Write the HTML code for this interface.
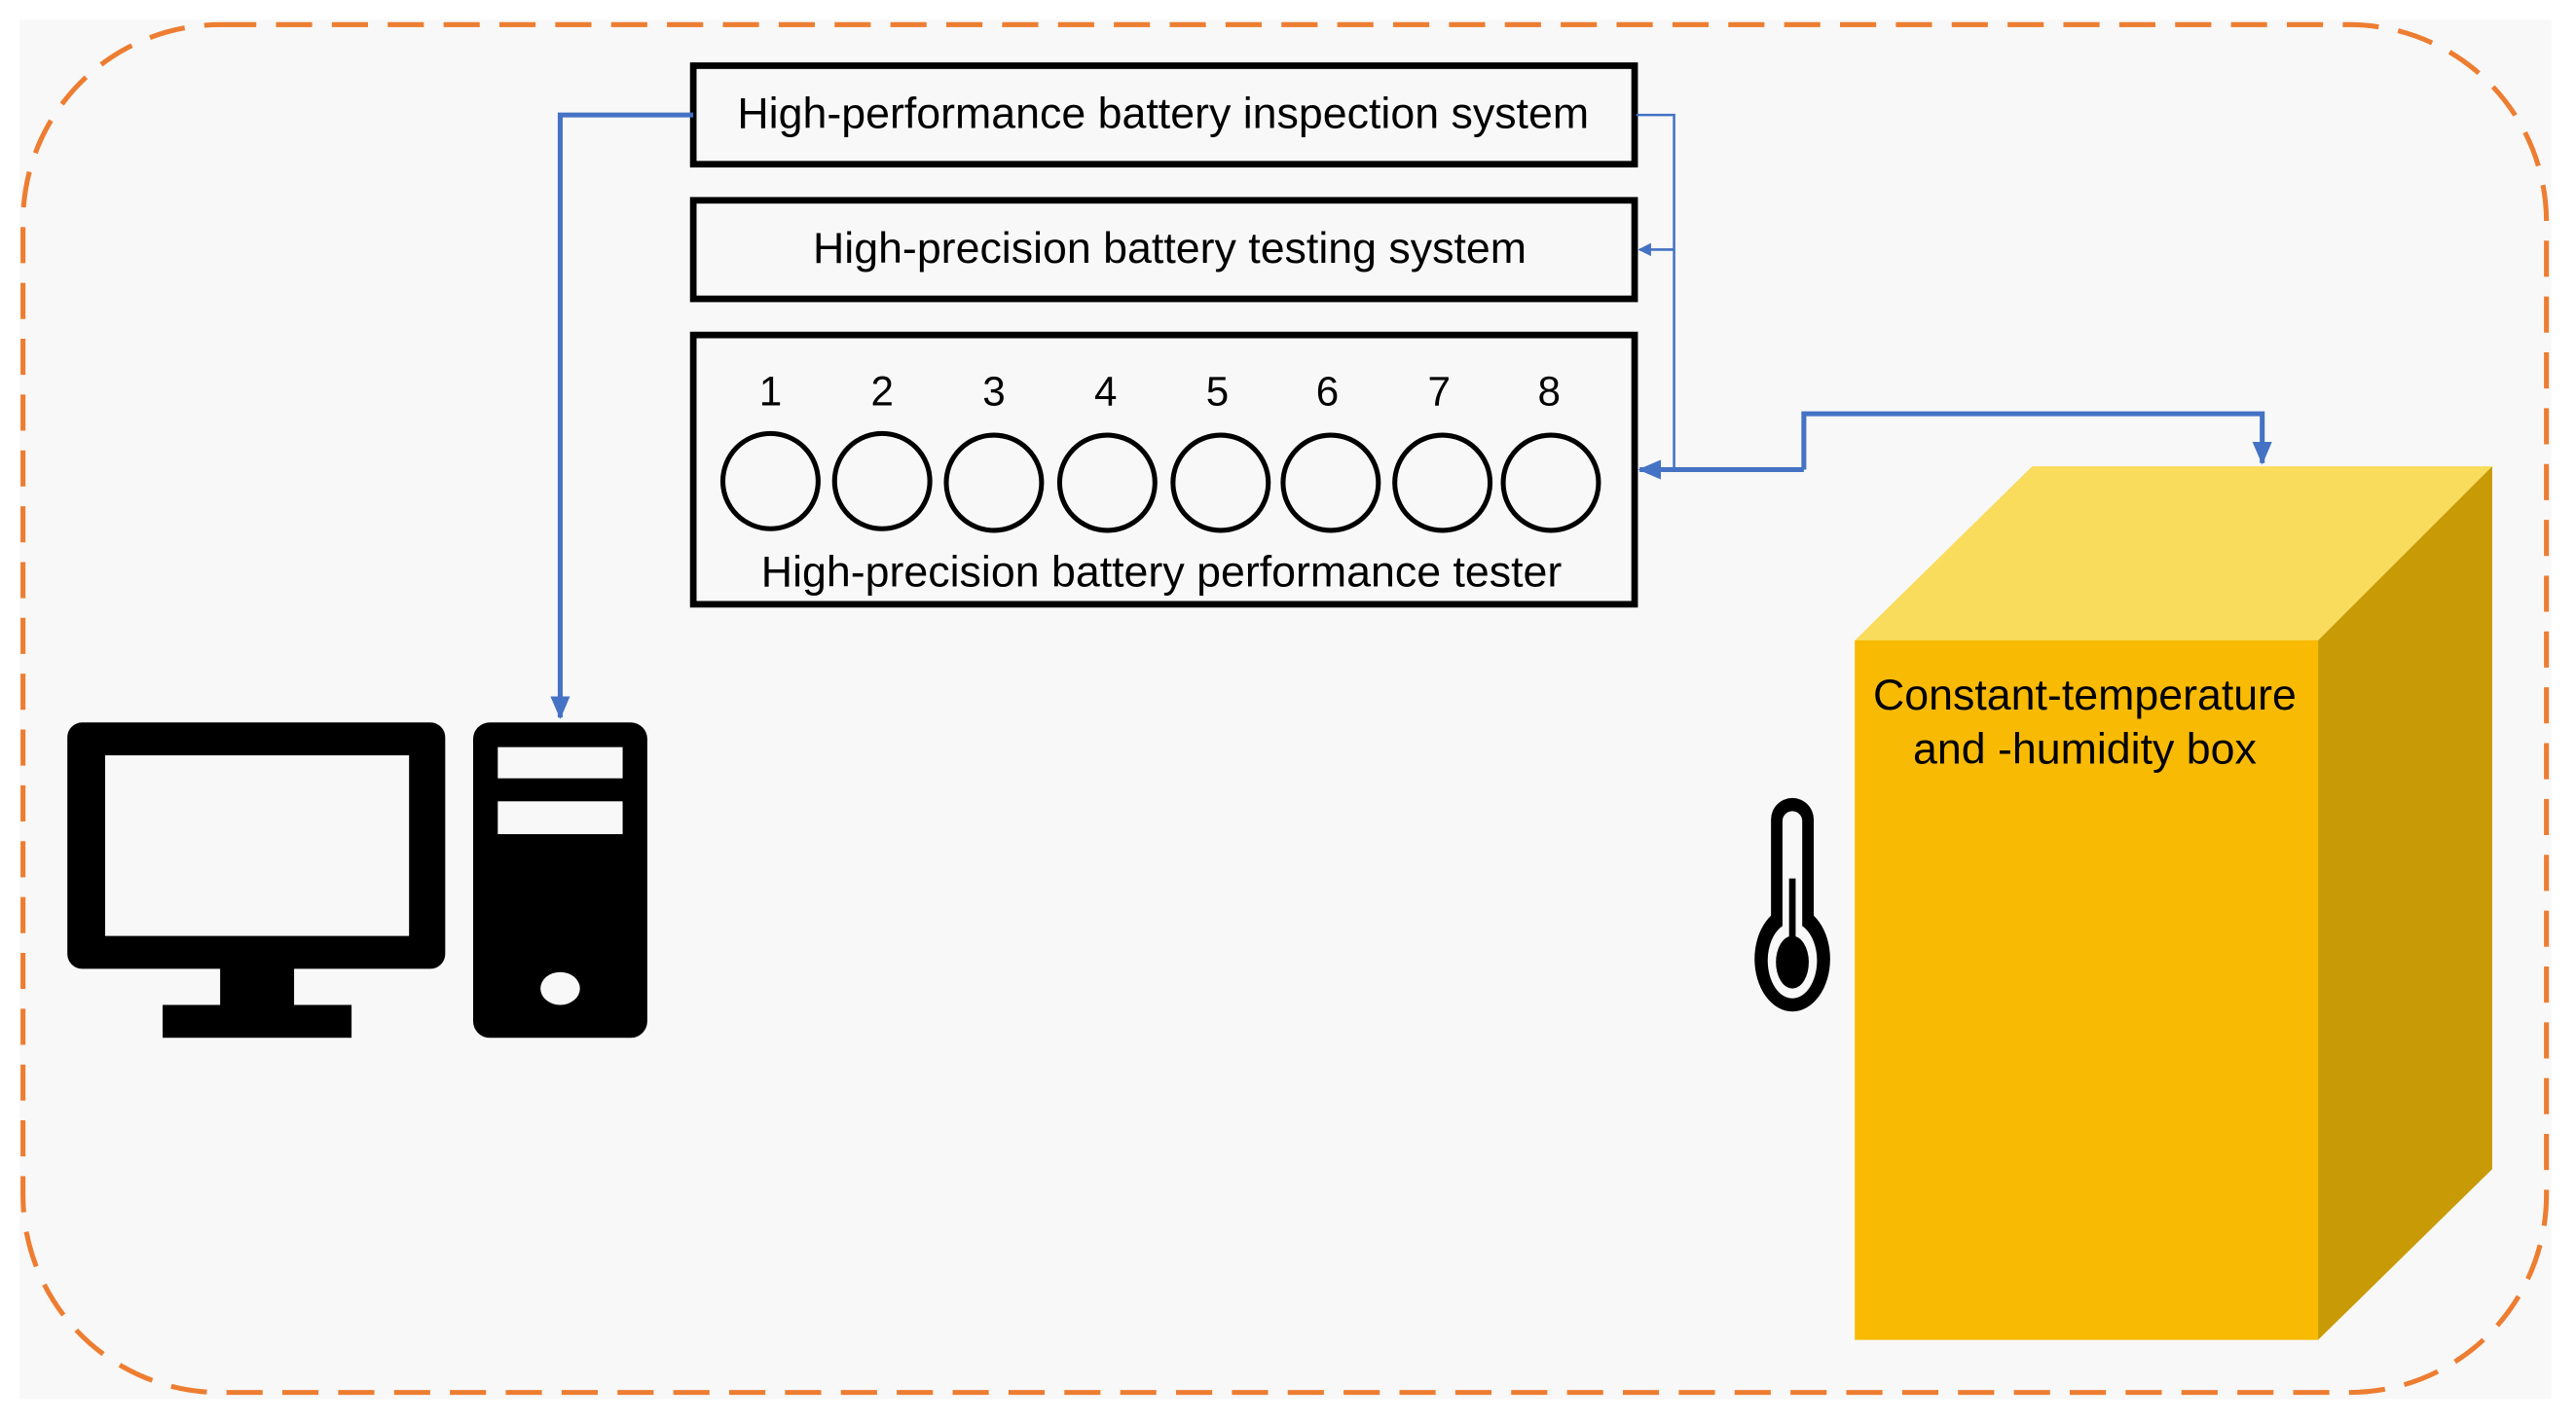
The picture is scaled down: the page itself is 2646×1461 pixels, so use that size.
<!DOCTYPE html>
<html><head><meta charset="utf-8"><style>
html,body{margin:0;padding:0;background:#fff;}
svg{display:block;}
text{font-family:"Liberation Sans",sans-serif;fill:#000;}
</style></head><body>
<svg width="2646" height="1461" viewBox="0 0 1568 866" preserveAspectRatio="none" xmlns="http://www.w3.org/2000/svg">
<defs>
<marker id="a" markerWidth="8" markerHeight="8" refX="7" refY="4" orient="auto" markerUnits="userSpaceOnUse" viewBox="0 0 8 8"><path d="M0,0 L8,4 L0,8 z" fill="#4472C4"/></marker>
<marker id="b" markerWidth="14" markerHeight="12" refX="13" refY="6" orient="auto" markerUnits="userSpaceOnUse" viewBox="0 0 14 12"><path d="M0,0 L14,6 L0,12 z" fill="#4472C4"/></marker>
</defs>
<rect x="12" y="12" width="1541" height="840" fill="#f8f8f8"/>
<rect x="14" y="15" width="1536" height="833" rx="120" ry="120" fill="none" stroke="#ED7D31" stroke-width="3" stroke-dasharray="22 12"/>
<!-- boxes -->
<rect x="422" y="40" width="573" height="60" fill="#f8f8f8" stroke="#000" stroke-width="4"/>
<text x="708" y="78" font-size="26.5" text-anchor="middle">High-performance battery inspection system</text>
<rect x="422" y="122" width="573" height="60" fill="#f8f8f8" stroke="#000" stroke-width="4"/>
<text x="712" y="160" font-size="26.5" text-anchor="middle">High-precision battery testing system</text>
<rect x="422" y="204" width="573" height="164" fill="#f8f8f8" stroke="#000" stroke-width="4"/>
<g font-size="25" text-anchor="middle">
<text x="469" y="247">1</text><text x="537" y="247">2</text><text x="605" y="247">3</text><text x="673" y="247">4</text>
<text x="741" y="247">5</text><text x="808" y="247">6</text><text x="876" y="247">7</text><text x="943" y="247">8</text>
</g>
<g fill="none" stroke="#000" stroke-width="3">
<circle cx="469" cy="293" r="29"/><circle cx="537" cy="293" r="29"/><circle cx="605" cy="294" r="29"/><circle cx="674" cy="294" r="29"/>
<circle cx="743" cy="294" r="29"/><circle cx="810" cy="294" r="29"/><circle cx="878" cy="294" r="29"/><circle cx="944" cy="294" r="29"/>
</g>
<text x="707" y="357" font-size="26.5" text-anchor="middle">High-precision battery performance tester</text>
<!-- connectors -->
<path d="M422,70 H341 V437" fill="none" stroke="#4472C4" stroke-width="3" marker-end="url(#b)"/>
<path d="M996,70 H1019 V286" fill="none" stroke="#4472C4" stroke-width="1.5"/>
<path d="M1019,152 H998" fill="none" stroke="#4472C4" stroke-width="1.5" marker-end="url(#a)"/>
<path d="M1098,286 H998" fill="none" stroke="#4472C4" stroke-width="3" marker-end="url(#b)"/>
<path d="M1098,286 V252 H1377 V282" fill="none" stroke="#4472C4" stroke-width="3" marker-end="url(#b)"/>
<!-- computer -->
<rect x="41" y="440" width="230" height="150" rx="9" fill="#000"/>
<rect x="64" y="460" width="185" height="110" fill="#f8f8f8"/>
<rect x="134" y="588" width="45" height="26" fill="#000"/>
<rect x="99" y="612" width="115" height="20" fill="#000"/>
<rect x="288" y="440" width="106" height="192" rx="10" fill="#000"/>
<rect x="303" y="455" width="76" height="19" fill="#f8f8f8"/>
<rect x="303" y="488" width="76" height="20" fill="#f8f8f8"/>
<ellipse cx="341" cy="602" rx="12" ry="10" fill="#f8f8f8"/>
<!-- thermometer -->
<rect x="1078" y="486" width="26" height="100" rx="13" fill="#000"/>
<ellipse cx="1091" cy="584" rx="23" ry="32" fill="#000"/>
<rect x="1085" y="494" width="12" height="80" rx="6" fill="#f8f8f8"/>
<ellipse cx="1091" cy="585" rx="15" ry="23" fill="#f8f8f8"/>
<ellipse cx="1091" cy="586" rx="10" ry="16" fill="#000"/>
<rect x="1089" y="535" width="4" height="45" fill="#000"/>
<!-- box -->
<polygon points="1129,390 1237,284 1517,284 1411,390" fill="#F9DC5C"/>
<polygon points="1411,390 1517,284 1517,712 1411,816" fill="#C89B06"/>
<rect x="1129" y="390" width="282" height="426" fill="#F8BA02"/>
<text x="1269" y="432" font-size="26.5" text-anchor="middle">Constant-temperature</text>
<text x="1269" y="465" font-size="26.5" text-anchor="middle">and -humidity box</text>
</svg>
</body></html>
